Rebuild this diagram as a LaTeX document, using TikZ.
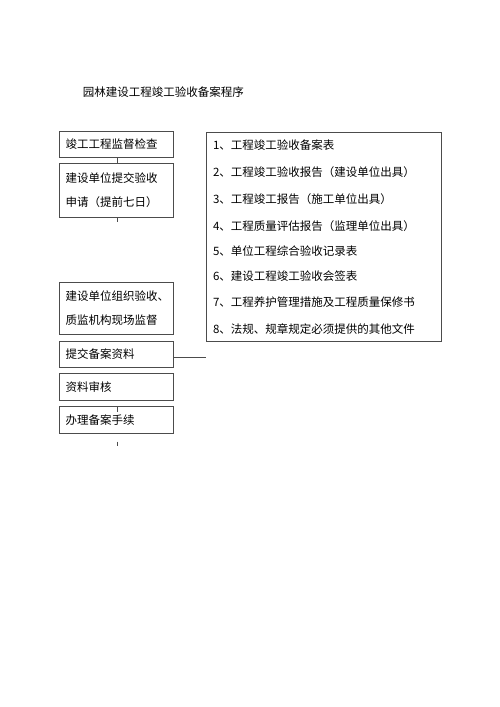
\documentclass[tikz,border=0pt]{standalone}
\usepackage{fontspec}
\newfontfamily\cjk[RawFeature={-chws}]{Noto Sans CJK SC}
\usetikzlibrary{positioning}

\begin{document}
\begin{tikzpicture}[x=1pt,y=-1pt,thick,
    box/.style={draw=black!70,line width=0.8pt,anchor=north west,inner xsep=6pt,inner ysep=0pt,text width=102pt,align=left,minimum height=26.3pt,font=\cjk\fontsize{11.5}{24}\selectfont},
    item/.style={anchor=west,inner sep=0pt,font=\cjk\fontsize{11.5}{13}\selectfont},
    link/.style={draw=black!70,line width=0.8pt}]

            \useasboundingbox (0,0) rectangle (500,707);

            \node[font=\cjk\fontsize{11.5}{13}\selectfont] (title) at (163.3,92) {园林建设工程竣工验收备案程序};

            \node[box] (1) at (59.3,131) {竣工工程监督检查};
            \node[box,minimum height=53.4pt] (2) at (59.3,163.3) {建设单位提交验收\\申请（提前七日）};
            \node[box,minimum height=52.6pt] (3) at (59.3,281.7) {建设单位组织验收、\\质监机构现场监督};
            \node[box] (4) at (59.3,340.7) {提交备案资料};
            \node[box] (5) at (59.3,373.3) {资料审核};
            \node[box,minimum height=27.3pt] (6) at (59.3,406) {办理备案手续};

            \node[draw=black!70,line width=0.8pt,anchor=north west,inner sep=0pt,minimum width=234.7pt,minimum height=209.5pt] (list) at (206,131.5) {};
            \node[item] (i1) at (212.7,145) {1、工程竣工验收备案表};
            \node[item] (i2) at (212.7,171.7) {2、工程竣工验收报告（建设单位出具）};
            \node[item] (i3) at (212.7,199) {3、工程竣工报告（施工单位出具）};
            \node[item] (i4) at (212.7,225.7) {4、工程质量评估报告（监理单位出具）};
            \node[item] (i5) at (212.7,251) {5、单位工程综合验收记录表};
            \node[item] (i6) at (212.7,276) {6、建设工程竣工验收会签表};
            \node[item] (i7) at (212.7,302.3) {7、工程养护管理措施及工程质量保修书};
            \node[item] (i8) at (212.7,329) {8、法规、规章规定必须提供的其他文件};

            \coordinate (t1) at (117.7,222);
            \coordinate (t2) at (205.7,357.3);
            \coordinate (t3) at (117.7,411.7);
            \coordinate (t4) at (117.7,441.7);
            \coordinate (t5) at (117.7,445.7);

            \draw[link] (1.south -| t1) -- (2.north -| t1);
            \draw[link] (2.south -| t1) -- (t1);
            \draw[link] (4.east |- t2) -- (t2);
            \draw[link] (6.north -| t3) -- (t3);
            \draw[link] (t4) -- (t5);

            ;
        \end{tikzpicture}
\end{document}
